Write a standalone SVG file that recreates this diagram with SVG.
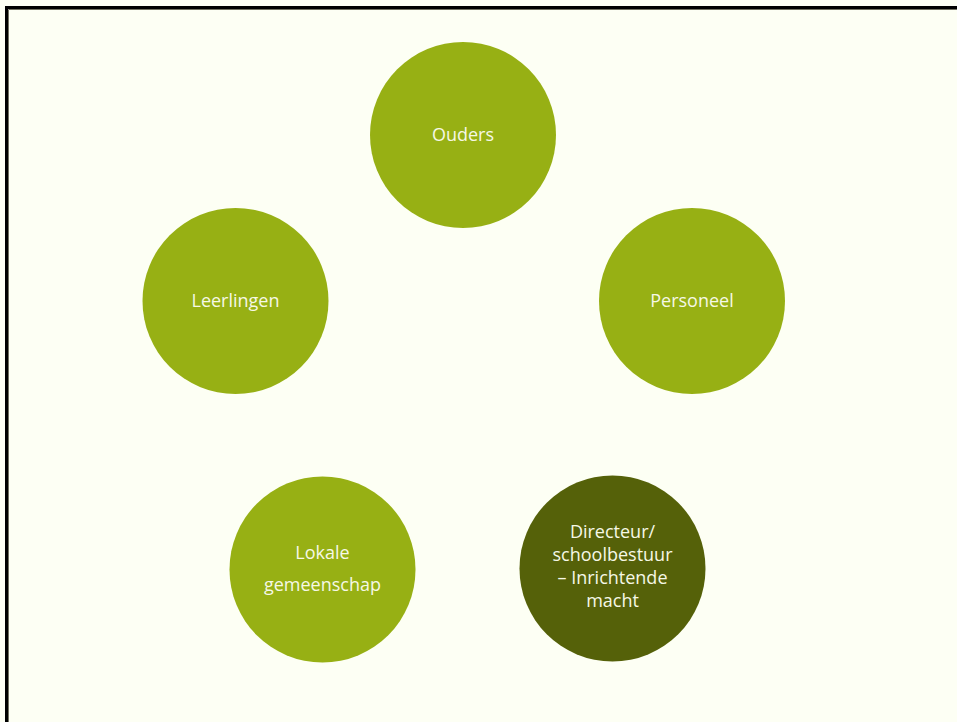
<svg xmlns="http://www.w3.org/2000/svg" width="957" height="722" viewBox="0 0 957 722">
<style>
.bg{fill:#FDFFF4}
.c{fill:#97B014}
.d{fill:#556109}
.t{font-family:"Open Sans","Noto Sans",sans-serif;font-size:18px;fill:#F6F8E6;text-anchor:middle}
</style>
<rect class="bg" x="0" y="0" width="957" height="722"/>
<path d="M6.5,722 V7.5 H957" fill="none" stroke="#000" stroke-width="3"/>
<path d="M8.5,722 V9.5 H957" fill="none" stroke="#707060" stroke-width="1"/>
<g id="connectors"/>
<g id="ouders"><circle class="c" cx="463" cy="135" r="93"/><text class="t" x="463" y="141">Ouders</text></g>
<g id="leerlingen"><circle class="c" cx="235.5" cy="301" r="93"/><text class="t" x="235.5" y="307">Leerlingen</text></g>
<g id="personeel"><circle class="c" cx="692" cy="301" r="93"/><text class="t" x="692" y="307">Personeel</text></g>
<g id="lokale"><circle class="c" cx="322.5" cy="569.5" r="93"/><text class="t" x="322.5" y="559">Lokale</text><text class="t" x="322.5" y="591">gemeenschap</text></g>
<g id="directeur"><circle class="d" cx="612.5" cy="568.5" r="93"/><text class="t" x="612.5" y="538">Directeur/</text><text class="t" x="612.5" y="561">schoolbestuur</text><text class="t" x="612.5" y="584">– Inrichtende</text><text class="t" x="612.5" y="607">macht</text></g>
</svg>
